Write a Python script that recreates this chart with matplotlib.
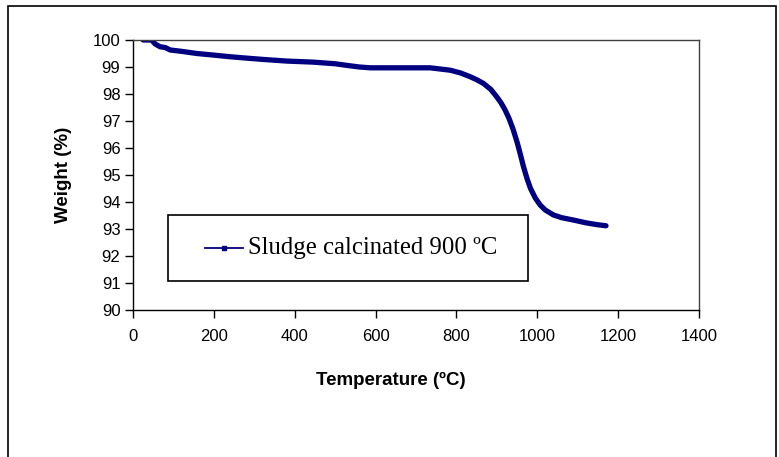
import matplotlib
matplotlib.use("Agg")
import matplotlib.pyplot as plt
from matplotlib.patches import Rectangle

temperature = [25, 35, 46, 55, 67, 80, 92, 120, 158, 200, 240, 280, 322, 380, 446, 500, 529,
               560, 587, 620, 650, 700, 735, 785, 810, 834, 850, 867, 885, 900, 910, 920, 930,
               940, 950, 958, 966, 975, 983, 995, 1007, 1020, 1040, 1060, 1090, 1120, 1148, 1170]
weight = [100.0, 100.0, 100.0, 99.85, 99.75, 99.72, 99.63, 99.58, 99.5, 99.44, 99.38, 99.33,
          99.28, 99.22, 99.18, 99.12, 99.06, 99.0, 98.97, 98.97, 98.97, 98.97, 98.97, 98.88,
          98.78, 98.64, 98.53, 98.39, 98.17, 97.89, 97.68, 97.42, 97.1, 96.7, 96.22, 95.77,
          95.3, 94.85, 94.51, 94.15, 93.89, 93.7, 93.52, 93.42, 93.33, 93.23, 93.16, 93.12]

x_ticks = [0, 200, 400, 600, 800, 1000, 1200, 1400]
y_ticks = [90, 91, 92, 93, 94, 95, 96, 97, 98, 99, 100]
series_label = "Sludge calcinated 900 ºC"

fig = plt.figure(figsize=(7.79, 4.57), dpi=100)
W, H = 779, 457
ax = fig.add_axes([133 / W, 1 - 310 / H, (699 - 133) / W, (310 - 40) / H])

ax.plot(temperature, weight, color="#000080", linewidth=3.8,
        solid_capstyle="round", solid_joinstyle="round")
ax.set_xlim(0, 1400)
ax.set_ylim(90, 100)
ax.set_xticks(x_ticks)
ax.set_yticks(y_ticks)
for lab in ax.get_xticklabels() + ax.get_yticklabels():
    lab.set_family("Liberation Sans")
    lab.set_fontsize(12)
ax.tick_params(direction="out", length=6, width=1, color="black")
ax.tick_params(axis="y", pad=3)
ax.tick_params(axis="x", pad=8)
for s in ["left", "bottom"]:
    ax.spines[s].set_color("black")
    ax.spines[s].set_linewidth(1.0)
for s in ["top", "right"]:
    ax.spines[s].set_color("#404040")
    ax.spines[s].set_linewidth(1.0)

ax.set_xlabel("Temperature (ºC)", family="Liberation Sans", fontweight="bold", fontsize=13.5)
ax.xaxis.set_label_coords((391 - 133) / (699 - 133), (310 - 380) / (310 - 40))
ax.set_ylabel("Weight (%)", family="Liberation Sans", fontweight="bold", fontsize=13.5)
ax.yaxis.set_label_coords((64 - 133) / (699 - 133), 0.5)
ax.xaxis.label.set_va("center")
ax.yaxis.label.set_va("center")

# Legend box
legend_ax_x0 = (168 - 133) / (699 - 133)
legend_ax_y0 = (310 - 281) / (310 - 40)
leg_w = (528 - 168) / (699 - 133)
leg_h = (281 - 215) / (310 - 40)
ax.add_patch(Rectangle((legend_ax_x0, legend_ax_y0), leg_w, leg_h, transform=ax.transAxes,
                       facecolor="white", edgecolor="black", linewidth=1.2, zorder=5))
ly = legend_ax_y0 + leg_h * 0.5
lx0 = (205 - 133) / (699 - 133)
lx1 = (243 - 133) / (699 - 133)
ax.plot([lx0, lx1], [ly, ly], transform=ax.transAxes, color="#000080", linewidth=1.3, zorder=6)
ax.plot([(lx0 + lx1) / 2], [ly], transform=ax.transAxes, color="#000080", marker="s",
        markersize=2.2, zorder=6)
ax.text((248 - 133) / (699 - 133), ly, series_label, transform=ax.transAxes,
        family="Liberation Serif", fontsize=17.8, va="center", ha="left", zorder=6)

# Outer border
fig.patches.append(Rectangle((8 / W, -0.05), (776 - 8) / W, 1 - 6 / H + 0.05,
                             transform=fig.transFigure, fill=False, edgecolor="black",
                             linewidth=1.2))

fig.savefig("out.png", dpi=100)
